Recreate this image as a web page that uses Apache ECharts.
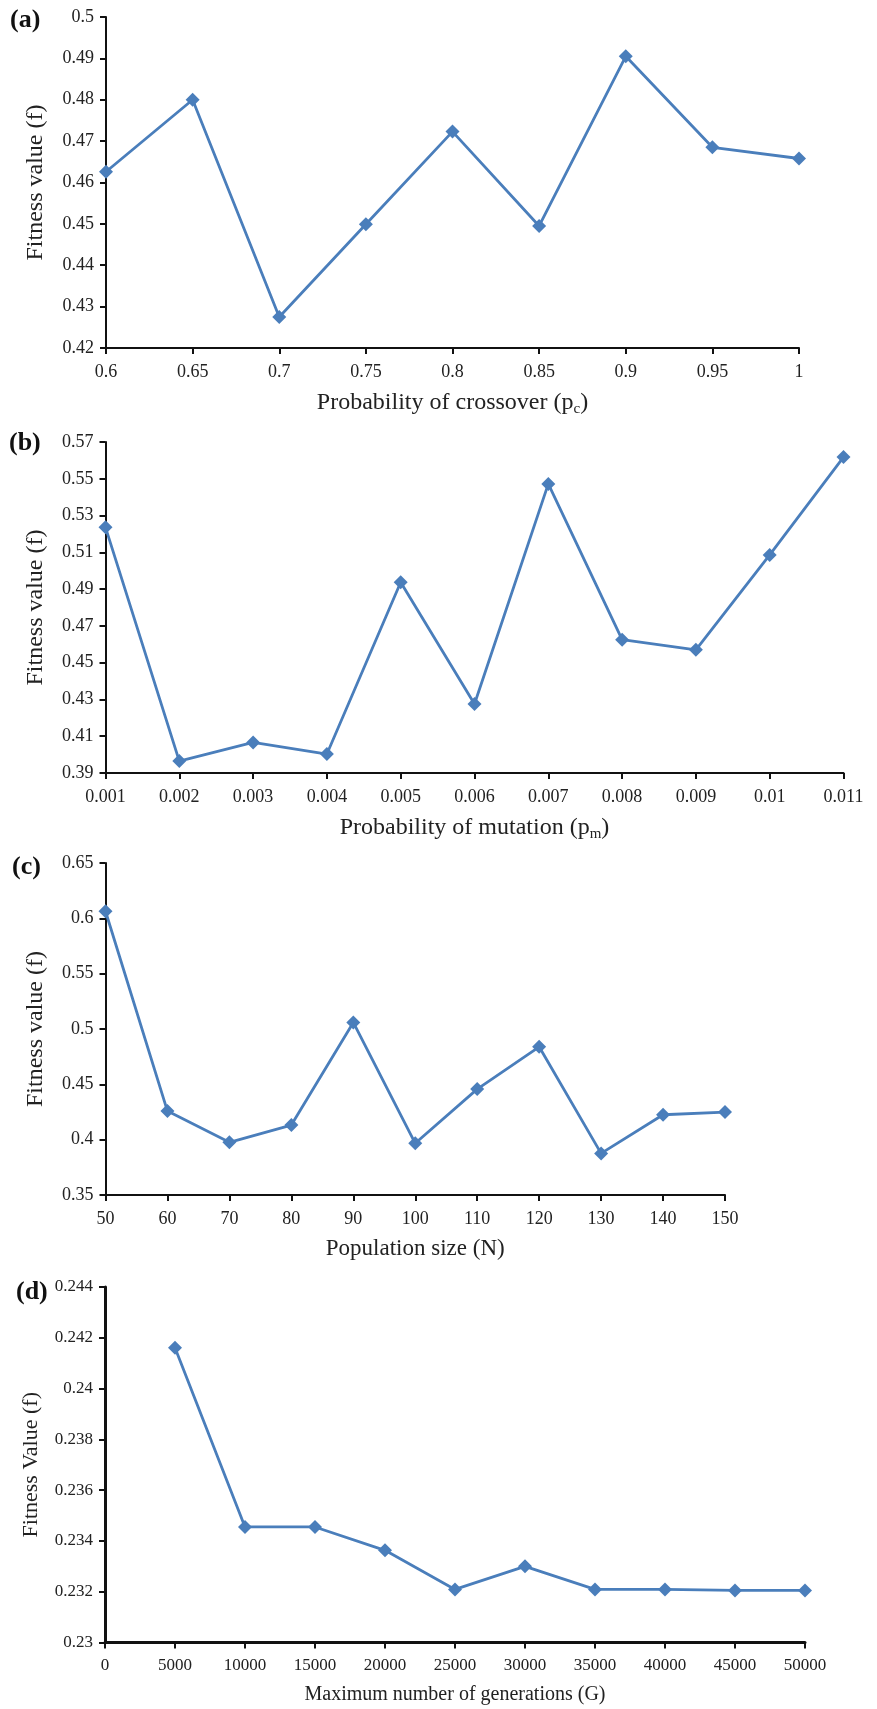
<!DOCTYPE html>
<html>
<head>
<meta charset="utf-8">
<script src="https://cdn.jsdelivr.net/npm/echarts@6/dist/echarts.min.js"></script>
<style>
  html, body { margin: 0; padding: 0; background: #fff; }
  #chart { width: 877px; height: 1709px; }
</style>
</head>
<body>
<div id="chart"></div>
<script>
// (a) crossover
var pcValues = [0.6, 0.65, 0.7, 0.75, 0.8, 0.85, 0.9, 0.95, 1];
var pcFitness = [0.4626, 0.4800, 0.4275, 0.4499, 0.4723, 0.4495, 0.4905, 0.4685, 0.4658];
var aYTicks = [0.42, 0.43, 0.44, 0.45, 0.46, 0.47, 0.48, 0.49, 0.5];

// (b) mutation
var pmValues = [0.001, 0.002, 0.003, 0.004, 0.005, 0.006, 0.007, 0.008, 0.009, 0.01, 0.011];
var pmFitness = [0.5236, 0.3965, 0.4066, 0.4003, 0.4937, 0.4275, 0.5472, 0.4625, 0.4570, 0.5086, 0.5618];
var bYTicks = [0.39, 0.41, 0.43, 0.45, 0.47, 0.49, 0.51, 0.53, 0.55, 0.57];

// (c) population size
var popValues = [50, 60, 70, 80, 90, 100, 110, 120, 130, 140, 150];
var popFitness = [0.6064, 0.4258, 0.3976, 0.4132, 0.5059, 0.3967, 0.4457, 0.4839, 0.3876, 0.4225, 0.4249];
var cYTicks = [0.35, 0.4, 0.45, 0.5, 0.55, 0.6, 0.65];

// (d) generations
var genValues = [5000, 10000, 15000, 20000, 25000, 30000, 35000, 40000, 45000, 50000];
var genFitness = [0.24161, 0.23455, 0.23455, 0.23363, 0.23209, 0.23300, 0.23209, 0.23209, 0.23205, 0.23205];
var dXTicks = [0, 5000, 10000, 15000, 20000, 25000, 30000, 35000, 40000, 45000, 50000];
var dYTicks = [0.23, 0.232, 0.234, 0.236, 0.238, 0.24, 0.242, 0.244];

var FONT = '"Liberation Serif", "Times New Roman", serif';
var LINE = '#4a7ebb';

function pairs(xs, ys) {
  return xs.map(function (x, i) { return [x, ys[i]]; });
}

function xAxisOf(idx, ticks, name, nameGap, lw, nameSize, tickSize) {
  return {
    type: 'value', gridIndex: idx,
    min: ticks[0], max: ticks[ticks.length - 1],
    name: name, nameLocation: 'middle', nameGap: nameGap,
    nameTextStyle: {
      fontFamily: FONT, fontSize: nameSize, color: '#222',
      rich: {
        n: { fontFamily: FONT, fontSize: nameSize, color: '#222' },
        sub: { fontFamily: FONT, fontSize: 15, color: '#222', padding: [13, 0, 0, 0] }
      }
    },
    axisLine: { show: true, lineStyle: { color: '#111', width: lw } },
    axisTick: { show: true, length: 6, lineStyle: { color: '#111', width: 2 }, customValues: ticks },
    axisLabel: {
      fontFamily: FONT, fontSize: tickSize, color: '#222', margin: 15,
      customValues: ticks,
      formatter: function (v) { return String(v); }
    },
    splitLine: { show: false }
  };
}

function yAxisOf(idx, ticks, name, nameGap, lw, nameSize, tickSize) {
  return {
    type: 'value', gridIndex: idx,
    min: ticks[0], max: ticks[ticks.length - 1],
    name: name, nameLocation: 'middle', nameGap: nameGap,
    nameTextStyle: { fontFamily: FONT, fontSize: nameSize, color: '#222' },
    axisLine: { show: true, lineStyle: { color: '#111', width: lw } },
    axisTick: { show: true, length: 6, lineStyle: { color: '#111', width: 2 }, customValues: ticks },
    axisLabel: {
      fontFamily: FONT, fontSize: tickSize, color: '#222', margin: 12,
      customValues: ticks,
      formatter: function (v) { return String(v); }
    },
    splitLine: { show: false }
  };
}

function seriesOf(idx, data) {
  return {
    type: 'line', xAxisIndex: idx, yAxisIndex: idx,
    data: data,
    symbol: 'diamond', symbolSize: 14,
    showAllSymbol: true,
    lineStyle: { color: LINE, width: 2.8 },
    itemStyle: { color: LINE },
    animation: false
  };
}

function panelTitle(text, left, top) {
  return {
    text: text, left: left, top: top, padding: 0,
    textStyle: { fontFamily: FONT, fontSize: 26, fontWeight: 'bold', color: '#111' }
  };
}

var chart = echarts.init(document.getElementById('chart'));
chart.setOption({
  backgroundColor: '#fff',
  animation: false,
  title: [
    panelTitle('(a)', 10, 7),
    panelTitle('(b)', 9, 430),
    panelTitle('(c)', 12, 854),
    panelTitle('(d)', 16, 1279)
  ],
  grid: [
    { left: 106, top: 17, width: 693, height: 331 },
    { left: 105.5, top: 442, width: 738, height: 331 },
    { left: 105.5, top: 863, width: 619.5, height: 332 },
    { left: 105, top: 1287, width: 700, height: 355.5 }
  ],
  xAxis: [
    xAxisOf(0, pcValues, '{n|Probability of crossover (p}{sub|c}{n|)}', 41, 2, 24, 18),
    xAxisOf(1, pmValues, '{n|Probability of mutation (p}{sub|m}{n|)}', 41, 2, 24, 18),
    xAxisOf(2, popValues, 'Population size (N)', 42, 2, 23, 18),
    xAxisOf(3, dXTicks, 'Maximum number of generations (G)', 42, 3, 20, 17)
  ],
  yAxis: [
    yAxisOf(0, aYTicks, 'Fitness value (f)', 58, 2, 24, 18),
    yAxisOf(1, bYTicks, 'Fitness value (f)', 58, 2, 24, 18),
    yAxisOf(2, cYTicks, 'Fitness value (f)', 58, 2, 24, 18),
    yAxisOf(3, dYTicks, 'Fitness Value (f)', 63, 3, 22, 17)
  ],
  series: [
    seriesOf(0, pairs(pcValues, pcFitness)),
    seriesOf(1, pairs(pmValues, pmFitness)),
    seriesOf(2, pairs(popValues, popFitness)),
    seriesOf(3, pairs(genValues, genFitness))
  ]
});
</script>
</body>
</html>
